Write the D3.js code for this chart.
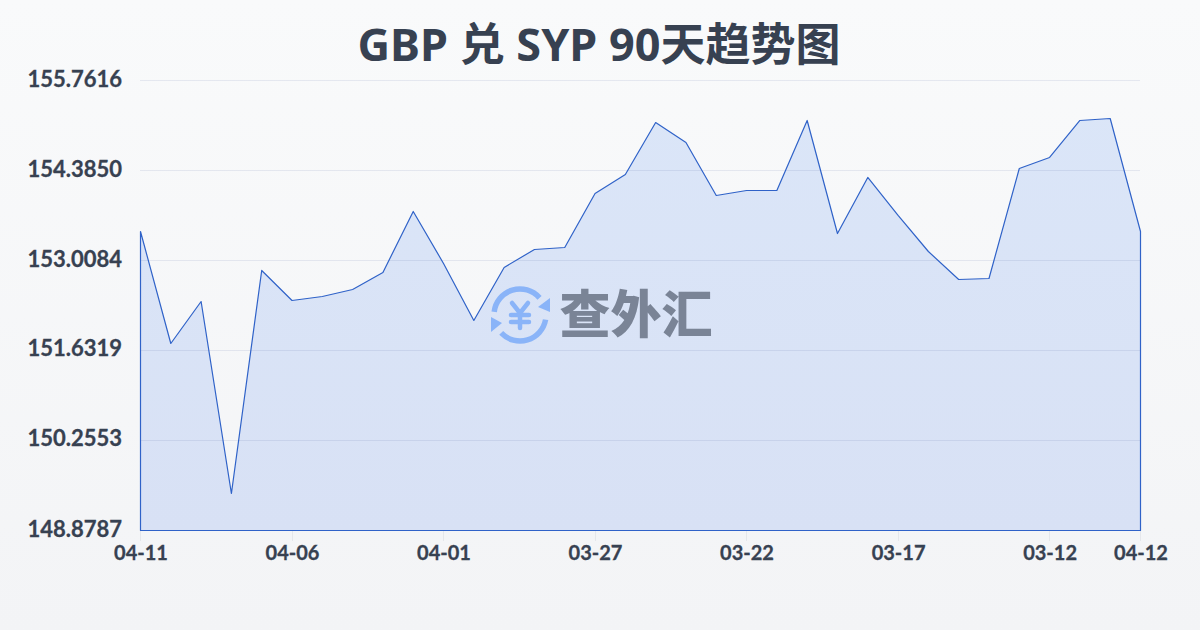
<!DOCTYPE html>
<html><head><meta charset="utf-8">
<script src="https://cdn.jsdelivr.net/npm/d3@7"></script>
<style>html,body{margin:0;padding:0;width:1200px;height:630px;overflow:hidden}
text{font-family:Lato,"Noto Sans CJK SC",sans-serif}
.lab{stroke:#374151;stroke-width:.3px}
.ttl{font-family:"Noto Sans","Noto Sans CJK SC",sans-serif}</style></head>
<body><svg id="c" width="1200" height="630"></svg>
<script>
const titleText = "GBP 兑 SYP 90天趋势图";
const dates = ["04-11","04-10","04-09","04-08","04-07","04-06","04-05","04-04","04-03","04-02","04-01","03-31","03-30","03-29","03-28","03-27","03-26","03-25","03-24","03-23","03-22","03-21","03-20","03-19","03-18","03-17","03-16","03-15","03-14","03-13","03-12","03-11","03-10","04-12"];
const values = [153.452,151.739,152.381,149.445,152.856,152.397,152.458,152.565,152.825,153.758,152.963,152.091,152.902,153.177,153.207,154.033,154.324,155.119,154.813,154.003,154.079,154.079,155.150,153.421,154.278,153.697,153.146,152.718,152.733,154.416,154.584,155.150,155.180,153.452];
const yTicks = [148.8787,150.2553,151.6319,153.0084,154.3850,155.7616];
const xTickIdx = [0,5,10,15,20,25,30,33];
const watermark = "查外汇";

const svg = d3.select("#c");
const defs = svg.append("defs");
const bg = defs.append("linearGradient").attr("id","bg").attr("x1",0).attr("y1",0).attr("x2",0).attr("y2",1);
bg.append("stop").attr("offset",0).attr("stop-color","#f9fafb");
bg.append("stop").attr("offset",1).attr("stop-color","#f3f4f6");
const ag = defs.append("linearGradient").attr("id","ag").attr("gradientUnits","userSpaceOnUse").attr("x1",0).attr("y1",80).attr("x2",0).attr("y2",530);
ag.append("stop").attr("offset",0).attr("stop-color","#dbe6f8");
ag.append("stop").attr("offset",1).attr("stop-color","#d8e1f5");
svg.append("rect").attr("width",1200).attr("height",630).attr("fill","url(#bg)");

const x = d3.scaleLinear().domain([0,dates.length-1]).range([140.5,1140.5]);
const y = d3.scaleLinear().domain([yTicks[0],yTicks[5]]).range([530.5,80.5]);

svg.append("text").attr("class","ttl").attr("x",599).attr("y",61).attr("text-anchor","middle")
  .attr("font-size",45).attr("font-weight",700).attr("fill","#374151").text(titleText);

const area = d3.area().x((d,i)=>x(i)).y0(y(yTicks[0])).y1(d=>y(d));
svg.append("path").datum(values).attr("d",area).attr("fill","url(#ag)");

svg.append("g").selectAll("line").data(yTicks).join("line")
  .attr("x1",140).attr("x2",1140).attr("y1",d=>Math.round(y(d)-.5)+.5).attr("y2",d=>Math.round(y(d)-.5)+.5)
  .attr("stroke","#1e3a8a").attr("stroke-opacity",0.09).attr("stroke-width",1);

svg.append("path").datum(values).attr("d",area).attr("fill","none")
  .attr("stroke","#2f62c8").attr("stroke-width",1.2).attr("stroke-linejoin","round");

svg.append("g").selectAll("text").data(yTicks).join("text").attr("class","lab")
  .attr("x",122).attr("y",d=>y(d)+6).attr("text-anchor","end")
  .attr("font-size",22).attr("font-weight",700).attr("fill","#374151")
  .text(d=>d.toFixed(4));

const gx = svg.append("g");
gx.selectAll("line").data(xTickIdx).join("line")
  .attr("x1",i=>Math.round(x(i)-.5)+.5).attr("x2",i=>Math.round(x(i)-.5)+.5).attr("y1",531).attr("y2",541)
  .attr("stroke","#e5e7eb");
gx.selectAll("text").data(xTickIdx).join("text").attr("class","lab")
  .attr("x",i=>x(i)+.5).attr("y",560).attr("text-anchor","middle")
  .attr("font-size",20).attr("font-weight",700).attr("fill","#374151")
  .text(i=>dates[i]);

const wm = svg.append("g");
const ic = wm.append("g").attr("transform","translate(520,315)").attr("fill","none").attr("stroke","#8ab4f8");
ic.append("path").attr("stroke-width",5.5).attr("stroke-linecap","round")
  .attr("d",d3.arc()({innerRadius:26,outerRadius:26,startAngle:-1.45,endAngle:0.85}));
ic.append("path").attr("stroke-width",5.5).attr("stroke-linecap","round")
  .attr("d",d3.arc()({innerRadius:26,outerRadius:26,startAngle:1.75,endAngle:3.95}));
ic.append("path").attr("fill","#8ab4f8").attr("stroke","none").attr("d","M30,-17 L30,-3 L18,-8 Z");
ic.append("path").attr("fill","#8ab4f8").attr("stroke","none").attr("d","M-29,17 L-29,2 L-18,8 Z");
ic.append("path").attr("stroke-width",4.5).attr("stroke-linecap","round").attr("stroke-linejoin","round")
  .attr("d","M-8,-12 L0,-2 L8,-12 M0,-2 V13 M-9,0 H9 M-9,7 H9");
wm.append("text").attr("x",636).attr("y",333).attr("text-anchor","middle")
  .attr("font-size",51).attr("font-weight",900).attr("fill","#7a8496")
  .text(watermark);
</script></body></html>
